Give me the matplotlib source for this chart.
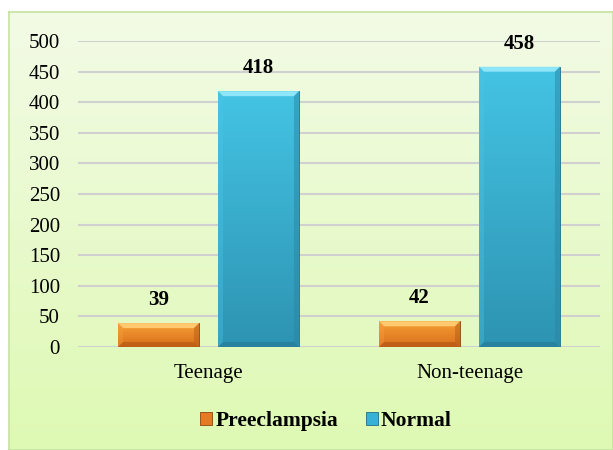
import numpy as np
import matplotlib.pyplot as plt
from matplotlib.colors import LinearSegmentedColormap
from matplotlib.patches import Polygon

categories = ['Teenage', 'Non-teenage']
preeclampsia = [39, 42]
normal = [418, 458]
yticks = [0, 50, 100, 150, 200, 250, 300, 350, 400, 450, 500]

plt.rcParams['font.family'] = ['Liberation Serif', 'DejaVu Serif']

fig = plt.figure(figsize=(6.13, 4.5), dpi=100)
fig.patch.set_facecolor('white')

# gradient background frame
bg = fig.add_axes([9/613, 0, 1 - 9/613, 1 - 12/450])
cmap = LinearSegmentedColormap.from_list('g', ['#f3fbe6', '#def9b3'])
bg.imshow(np.linspace(0, 1, 256)[:, None], aspect='auto', cmap=cmap, extent=[0, 1, 0, 1])
bg.set_xticks([])
bg.set_yticks([])
for s in bg.spines.values():
    s.set_color('#c5e3a0')
    s.set_linewidth(1.2)
bg.set_zorder(0)

ax = fig.add_axes([78/613, 1 - 347/450, 522/613, 306/450])
ax.set_zorder(1)
ax.patch.set_alpha(0)

x = np.arange(len(categories))
w = 0.31
gap = 0.073
off = (w + gap) / 2

b1 = ax.bar(x - off, preeclampsia, w, color='#e57a22', edgecolor='#8a4510', linewidth=0.6,
            label='Preeclampsia', zorder=3)
b2 = ax.bar(x + off, normal, w, color='#37b2d6', edgecolor='#1d6f88', linewidth=0.6,
            label='Normal', zorder=3)

ax.set_xlim(-0.5, 1.5)
ax.set_ylim(0, 500)

# gradient fill and bevel on each bar
px_x = 2 / 522
px_y = 500 / 306
styles = [
    (b1, ['#f7a035', '#d86e1c'], '#ffc970', '#f5a040', '#b85a14', '#a85010'),
    (b2, ['#44c4e4', '#2e93b2'], '#8fe6f8', '#52c4e2', '#2a86a4', '#23738e'),
]
for bars, grad, top, left, right, bottom in styles:
    cm = LinearSegmentedColormap.from_list('b', grad)
    for r in bars:
        x0, x1, h = r.get_x(), r.get_x() + r.get_width(), r.get_height()
        im = ax.imshow(np.linspace(0, 1, 256)[:, None], aspect='auto', cmap=cm,
                       extent=[x0, x1, 0, h], zorder=3.5)
        im.set_clip_path(r)
        bx = 5 * px_x
        by = min(5 * px_y, h / 3)
        ax.add_patch(Polygon([(x0, h), (x1, h), (x1 - bx, h - by), (x0 + bx, h - by)],
                             color=top, lw=0, zorder=4))
        ax.add_patch(Polygon([(x0, 0), (x0, h), (x0 + bx, h - by), (x0 + bx, by)],
                             color=left, lw=0, alpha=0.35, zorder=4))
        ax.add_patch(Polygon([(x1, 0), (x1, h), (x1 - bx, h - by), (x1 - bx, by)],
                             color=right, lw=0, alpha=0.5, zorder=4))
        ax.add_patch(Polygon([(x0, 0), (x1, 0), (x1 - bx, by), (x0 + bx, by)],
                             color=bottom, lw=0, alpha=0.5, zorder=4))
        ax.text((x0 + x1) / 2, h + 21, str(int(h)), ha='center', va='bottom',
                fontsize=15, fontweight='bold', zorder=5)

ax.set_yticks(yticks)
ax.set_xticks(x)
ax.set_xticklabels(categories, fontsize=15)
ax.tick_params(axis='y', labelsize=15, length=0, pad=13)
ax.tick_params(axis='x', length=0, pad=12)
ax.yaxis.grid(True, color='#d0d0d0', linewidth=1.5, zorder=0)
ax.set_axisbelow(True)
for s in ax.spines.values():
    s.set_visible(False)

fig.legend(handles=[b1, b2], loc='center', bbox_to_anchor=(326/613, 1 - 421/450), ncol=2,
           frameon=False, prop={'weight': 'bold', 'size': 15.5}, handlelength=0.55,
           handleheight=0.55, handletextpad=0.15, columnspacing=1.3)

fig.savefig('out.png', dpi=100)
